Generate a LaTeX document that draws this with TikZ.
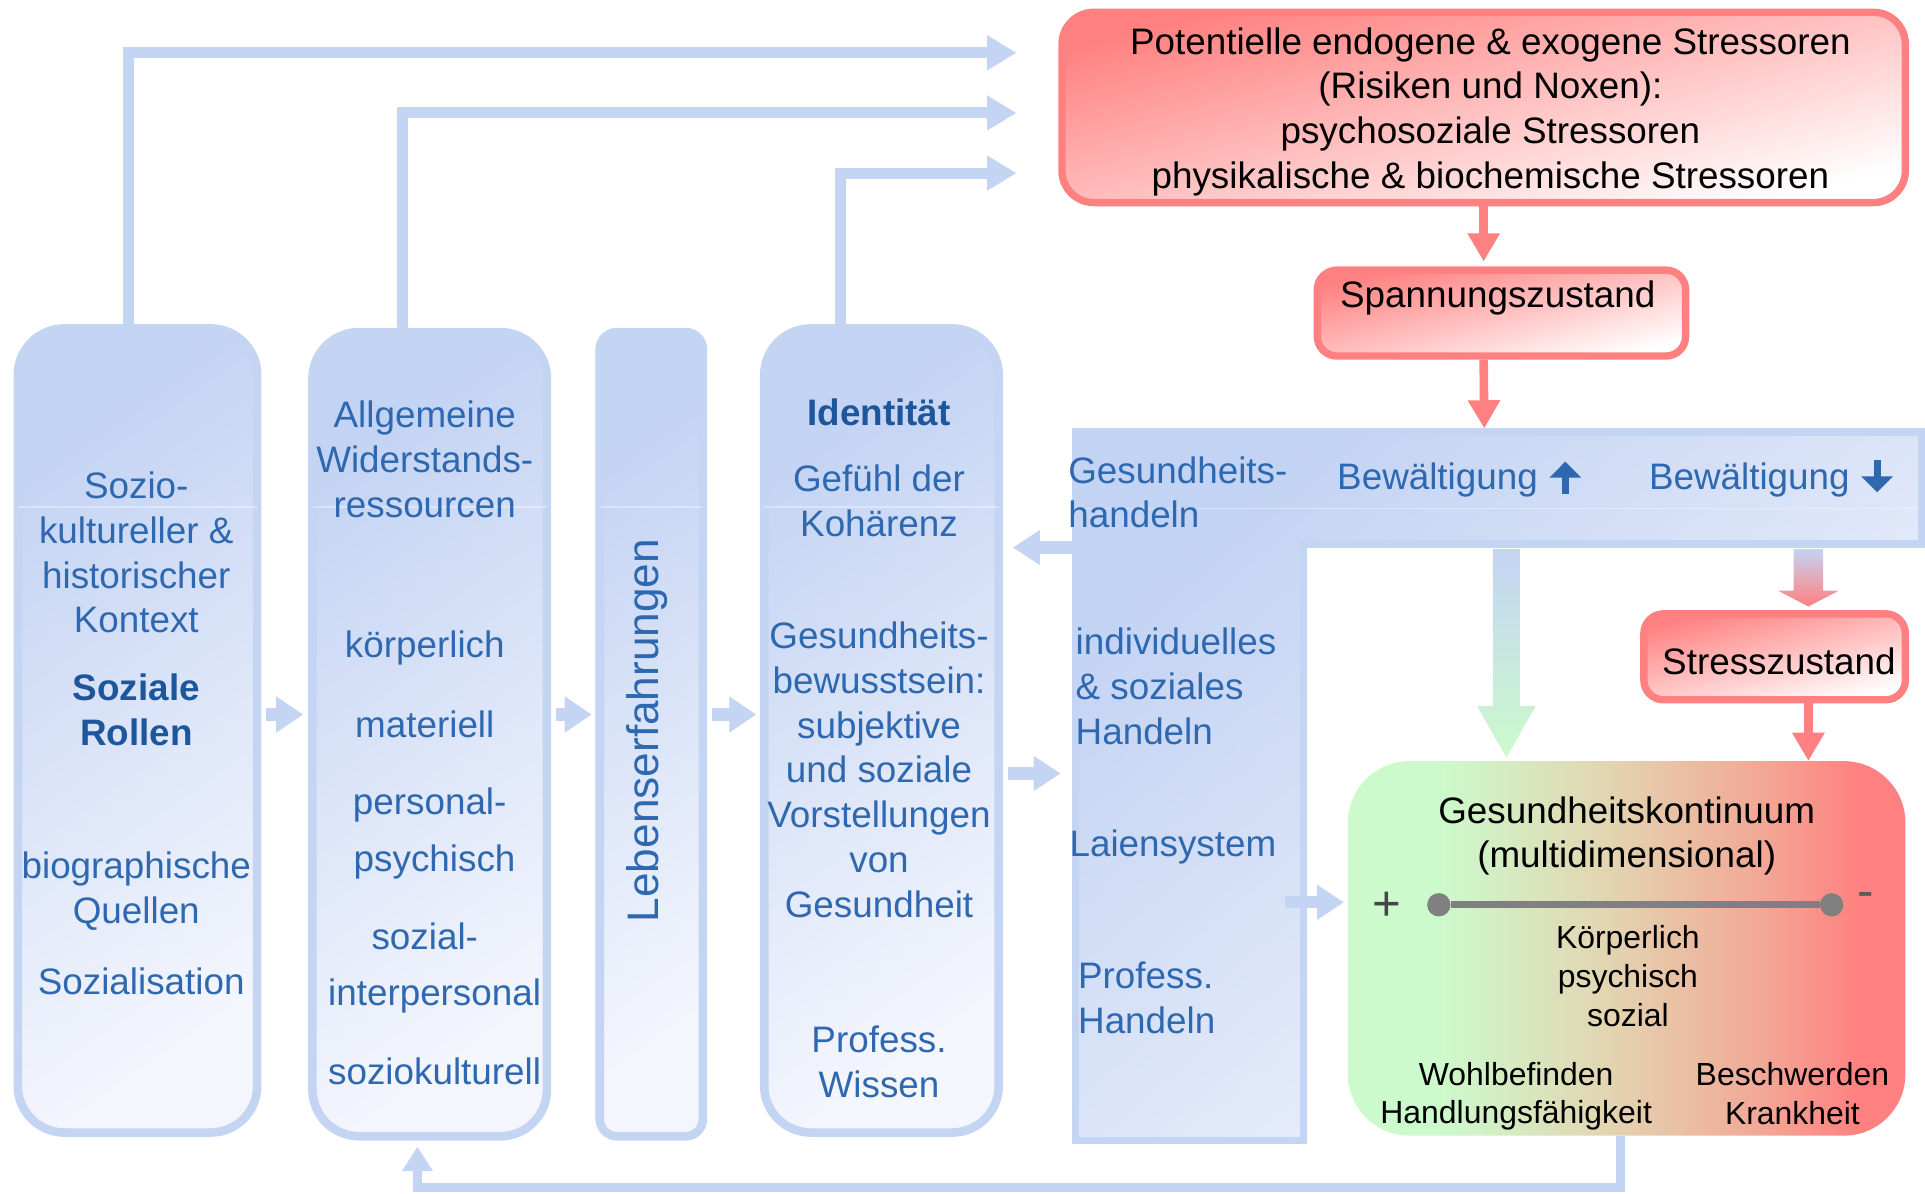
\documentclass[tikz,border=0pt]{standalone}
\usepackage{fontspec}
\setmainfont{Liberation Sans}
\usetikzlibrary{arrows.meta,calc}
\definecolor{txt}{RGB}{46,104,176}
\definecolor{txtb}{RGB}{30,86,156}
\definecolor{bblue}{RGB}{196,212,243}
\definecolor{bfillA}{RGB}{195,211,243}
\definecolor{bfillB}{RGB}{244,246,253}
\definecolor{rline}{RGB}{255,128,128}
\definecolor{gkgreen}{RGB}{204,250,204}
\definecolor{gktan}{RGB}{226,214,178}
\definecolor{gkpink}{RGB}{242,168,150}
\definecolor{gkred}{RGB}{255,128,128}
\definecolor{dotgray}{RGB}{128,128,128}
\pgfdeclarehorizontalshading{gkshade}{100bp}{color(0bp)=(gkgreen); color(25bp)=(gkgreen); color(33bp)=(gkgreen); color(48bp)=(gktan); color(62bp)=(gkpink); color(71bp)=(gkred); color(100bp)=(gkred)}
\begin{document}
\begin{tikzpicture}[x=1pt,y=-1pt,
  every node/.style={font=\fontsize{30}{36.5}\selectfont, inner sep=0pt},
  bluebox/.style={draw=bblue, line width=7pt, rounded corners=38pt, top color=bfillA, bottom color=bfillB, shading angle=35},
  redbox/.style={draw=rline, line width=6pt, rounded corners=26pt, top color=rline, bottom color=white, shading angle=14},
  bt/.style={text=txt, align=center},
  btl/.style={text=txt, align=left, anchor=west},
  bold/.style={text=txtb, align=center, font=\fontsize{30}{36.5}\selectfont\bfseries},
  blk/.style={text=black, align=center},
  small/.style={font=\fontsize{26}{31.5}\selectfont},
  fbarrow/.style={draw=bblue, line width=9pt, -{Triangle[width=27pt,length=24pt]}},
  fbarrowb/.style={draw=bblue, line width=8pt, -{Triangle[width=24pt,length=20pt]}},
  colarrow/.style={draw=bblue, line width=11pt, -{Triangle[width=28pt,length=22pt]}},
  sidearrow/.style={draw=bblue, line width=10pt, -{Triangle[width=27pt,length=22pt]}},
  redarrow/.style={draw=rline, line width=7pt, -{Triangle[width=25pt,length=23pt]}},
  bwarrow/.style={draw=txt, line width=5.5pt, -{Triangle[width=25pt,length=13pt]}},
  gloss/.style={draw=white, line width=1pt, opacity=0.35},
]
\useasboundingbox (0,0) rectangle (1568,972);

% ---------- left column boxes ----------
\node[bluebox, minimum width=195pt, minimum height=655pt] (b1) at (112,595) {};
\node[bluebox, minimum width=191pt, minimum height=655pt] (b2) at (350,598) {};
\node[bluebox, rounded corners=14pt, minimum width=84pt, minimum height=655pt] (b3) at (530.5,598) {};
\node[bluebox, minimum width=191pt, minimum height=655pt] (b4) at (718,595) {};

% ---------- Gesundheitshandeln L-shape ----------
\shade[draw=bblue, line width=6pt, top color=bfillA, bottom color=bfillB, shading angle=40]
  (876,352) -- (1565,352) -- (1565,443) -- (1062,443) -- (1062,929) -- (876,929) -- cycle;
\coordinate (bandL) at (876,446);
\coordinate (bandtop) at (1209,349);

% gloss lines
\coordinate (gl) at (0,413);
\draw[gloss] ($(b1.west |- gl)+(4,0)$) -- ($(b1.east |- gl)+(-4,0)$);
\draw[gloss] ($(b2.west |- gl)+(4,0)$) -- ($(b2.east |- gl)+(-4,0)$);
\draw[gloss] ($(b3.west |- gl)+(4,0)$) -- ($(b3.east |- gl)+(-4,0)$);
\draw[gloss] ($(b4.west |- gl)+(4,0)$) -- ($(b4.east |- gl)+(-4,0)$);
\draw[gloss] (879,414) -- (1562,414);

% ---------- red boxes ----------
\node[redbox, minimum width=687pt, minimum height=155pt] (red1) at (1208.5,87.5) {};
\node[redbox, rounded corners=16pt, minimum width=300pt, minimum height=70pt] (span) at (1223,255) {};
\node[redbox, rounded corners=16pt, minimum width=213pt, minimum height=70pt] (stress) at (1445.5,535) {};
\shade[shading=gkshade, rounded corners=50pt] (1098,620) rectangle (1552,925);
\node[minimum width=454pt, minimum height=305pt] (gk) at (1325,772.5) {};

% ---------- texts: box 1 ----------
\node[bt] (t11) at (111,450) {Sozio-\\kultureller \&\\historischer\\Kontext};
\node[bold] (t12) at (111,578) {Soziale\\Rollen};
\node[bt] (t13) at (111,726) {biographische\\Quellen};
\node[bt] (t14) at (115,799) {Sozialisation};

% ---------- texts: box 2 ----------
\node[bt] (t21) at (346,374) {Allgemeine\\Widerstands-\\ressourcen};
\node[bt] (t22) at (346,528) {körperlich};
\node[bt] (t23) at (346,590) {materiell};
\node[bt] (t24) at (350,656) {personal-};
\node[bt] (t25) at (354,702) {psychisch};
\node[bt] (t26) at (346,763) {sozial-};
\node[bt] (t27) at (354,811) {interpersonal};
\node[bt] (t28) at (354,873) {soziokulturell};

% ---------- box 3 ----------
\node[bt, rotate=90, font=\fontsize{36}{40}\selectfont] (t31) at (527,595) {Lebenserfahrungen};

% ---------- texts: box 4 ----------
\node[bold] (t41) at (716,336) {Identität};
\node[bt] (t42) at (716,408) {Gefühl der\\Kohärenz};
\node[bt] (t43) at (716,627) {Gesundheits-\\bewusstsein:\\subjektive\\und soziale\\Vorstellungen\\von\\Gesundheit};
\node[bt] (t44) at (716,865) {Profess.\\Wissen};

% ---------- band texts ----------
\node[btl] (h1) at (870,401) {Gesundheits-\\handeln};
\node[btl] (h2) at (1089,391) {Bewältigung};
\node[btl] (h3) at (1343,391) {Bewältigung};
\draw[bwarrow] (1275,402) -- (1275,376);
\draw[bwarrow] (1529,375) -- (1529,401);
\node[btl] (h4) at (876,559) {individuelles\\\& soziales\\Handeln};
\node[btl] (h5) at (871,690) {Laiensystem};
\node[btl] (h6) at (878,813) {Profess.\\Handeln};

% ---------- red texts ----------
\node[blk] (r1) at (1214,91) {Potentielle endogene \& exogene Stressoren\\(Risiken und Noxen):\\psychosoziale Stressoren\\physikalische \& biochemische Stressoren};
\node[blk] (r2) at (1220,243) {Spannungszustand};
\node[blk] (r3) at (1449,539) {Stresszustand};

% ---------- Gesundheitskontinuum texts ----------
\node[blk] (g1) at (1325,681) {Gesundheitskontinuum\\(multidimensional)};
\node[text={rgb,255:red,70;green,70;blue,70}, font=\fontsize{40}{44}\selectfont] (gplus) at (1130,738) {+};
\node[text={rgb,255:red,90;green,90;blue,90}, font=\fontsize{40}{44}\selectfont] (gminus) at (1520,733) {-};
\node[circle, fill=dotgray, minimum size=19pt] (p1) at (1172,737) {};
\node[circle, fill=dotgray, minimum size=19pt] (p2) at (1492,737) {};
\draw[dotgray, line width=6pt] (p1) -- (p2);
\node[blk, small] (g2) at (1326,795) {Körperlich\\psychisch\\sozial};
\node[blk, small] (g3) at (1235,893) {Wohlbefinden\\Handlungsfähigkeit};
\node[blk, small] (g4) at (1460,891) {Beschwerden\\Krankheit};

% ---------- feedback arrows to top ----------
\coordinate (ta) at (828,43);
\coordinate (tb) at (828,92);
\coordinate (tc) at (828,141);
\draw[fbarrow] ($(b1.north)+(-7,0)$) |- (ta);
\draw[fbarrow] ($(b2.north)+(-22,0)$) |- (tb);
\draw[fbarrow] ($(b4.north)+(-33,0)$) |- (tc);

% ---------- column arrows ----------
\coordinate (ya) at (0,582);
\draw[colarrow] ($(b1.east |- ya)+(4,0)$) -- ($(b2.west |- ya)+(-4,0)$);
\draw[colarrow] ($(b2.east |- ya)+(4,0)$) -- ($(b3.west |- ya)+(-3,0)$);
\draw[colarrow] ($(b3.east |- ya)+(4,0)$) -- ($(b4.west |- ya)+(-3,0)$);
\coordinate (yc) at (0,630);
\draw[sidearrow] ($(b4.east |- yc)+(4,0)$) -- ($(bandL |- yc)+(-12,0)$);
\draw[sidearrow] (bandL) -- ($(b4.east |- bandL)+(8,0)$);
\coordinate (gin) at (1047,735);
\draw[sidearrow] (gin) -- ($(gk.west |- gin)+(-3,0)$);

% ---------- bottom feedback ----------
\draw[fbarrowb] ($(gk.south)+(-5,0)$) -- ++(0,42) -| ($(b2.south)+(-10,5)$);

% ---------- red arrows ----------
\draw[redarrow] (red1.south) -- ($(red1.south |- span.north)+(0,-4)$);
\draw[redarrow] (span.south -| red1.south) -- (bandtop);
\coordinate (s1) at ($(stress.south)+(27.5,0)$);
\draw[redarrow] (s1) -- (s1 |- gk.north);

% ---------- shaded arrows from band ----------
\shade[top color=bblue, bottom color=gkgreen]
  (1216,447) -- (1238,447) -- (1238,575) -- (1251,575) -- (1227,617) -- (1203,575) -- (1216,575) -- cycle;
\shade[top color=bblue, bottom color=rline]
  (1461,447) -- (1485,447) -- (1485,481) -- (1498,481) -- (1473,494) -- (1448,481) -- (1461,481) -- cycle;
\end{tikzpicture}
\end{document}
